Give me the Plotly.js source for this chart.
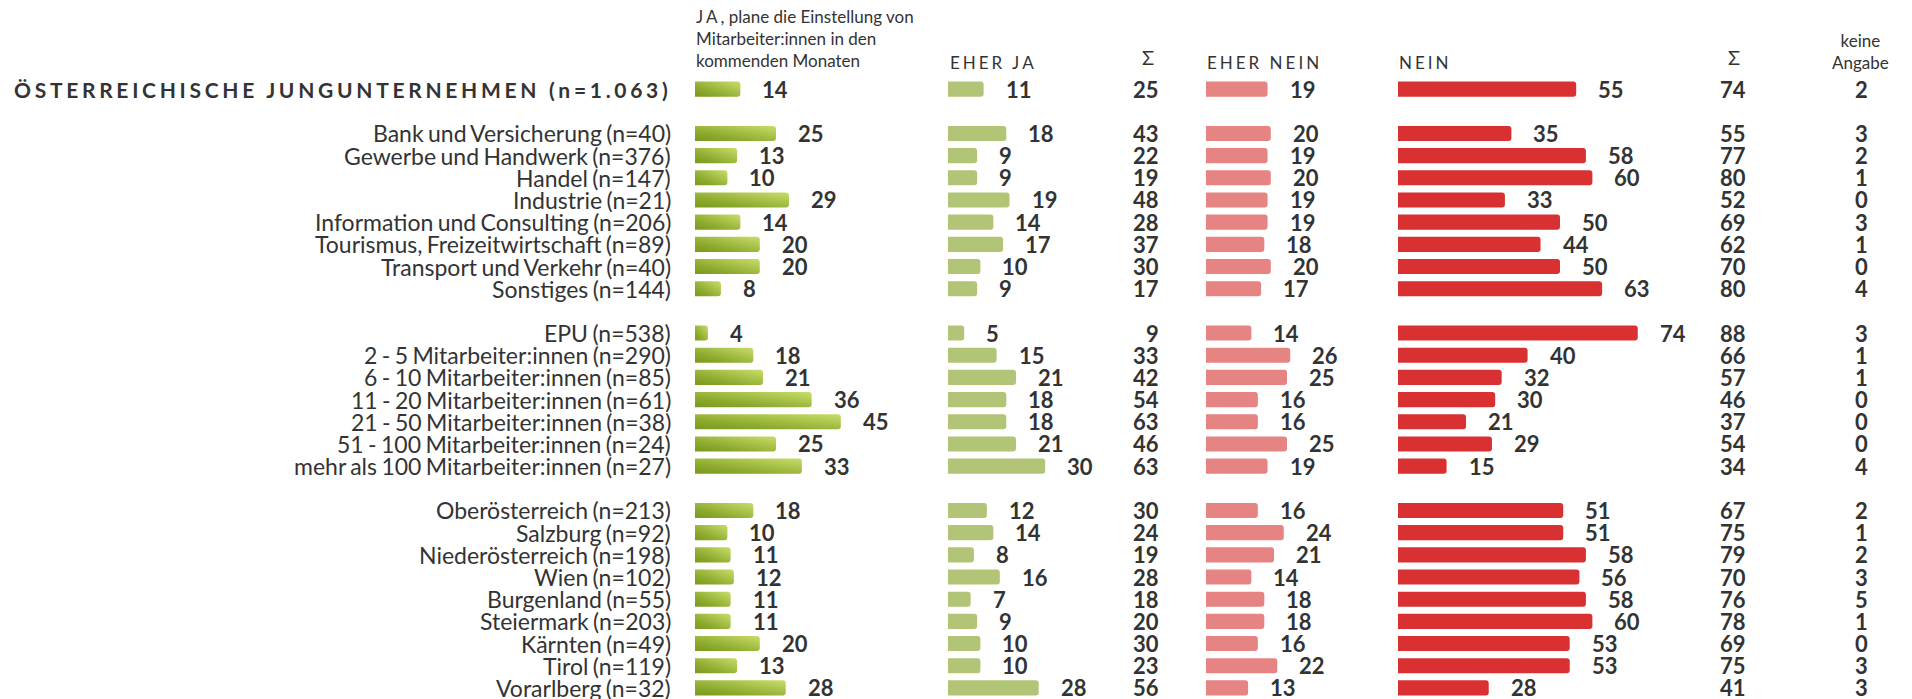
<!DOCTYPE html>
<html>
<head>
<meta charset="utf-8">
<script src="https://cdn.plot.ly/plotly-3.0.1.min.js"></script>
<style>
html,body{margin:0;padding:0;background:#fff;}
#chart{width:1912px;height:699px;}
</style>
</head>
<body>
<div id="chart"></div>
<script>
// ---------------- DATA ----------------
const categories = [
  'ÖSTERREICHISCHE JUNGUNTERNEHMEN (n=1.063)',
  'Bank und Versicherung (n=40)',
  'Gewerbe und Handwerk (n=376)',
  'Handel (n=147)',
  'Industrie (n=21)',
  'Information und Consulting (n=206)',
  'Tourismus, Freizeitwirtschaft (n=89)',
  'Transport und Verkehr (n=40)',
  'Sonstiges (n=144)',
  'EPU (n=538)',
  '2 - 5 Mitarbeiter:innen (n=290)',
  '6 - 10 Mitarbeiter:innen (n=85)',
  '11 - 20 Mitarbeiter:innen (n=61)',
  '21 - 50 Mitarbeiter:innen (n=38)',
  '51 - 100 Mitarbeiter:innen (n=24)',
  'mehr als 100 Mitarbeiter:innen (n=27)',
  'Oberösterreich (n=213)',
  'Salzburg (n=92)',
  'Niederösterreich (n=198)',
  'Wien (n=102)',
  'Burgenland (n=55)',
  'Steiermark (n=203)',
  'Kärnten (n=49)',
  'Tirol (n=119)',
  'Vorarlberg (n=32)'
];
const groupStarts = [1, 9, 16]; // a blank row is inserted before these categories

const ja       = [14, 25,13,10,29,14,20,20,8,  4,18,21,36,45,25,33, 18,10,11,12,11,11,20,13,28];
const eherJa   = [11, 18,9,9,19,14,17,10,9,    5,15,21,18,18,21,30, 12,14,8,16,7,9,10,10,28];
const sumJa    = [25, 43,22,19,48,28,37,30,17, 9,33,42,54,63,46,63, 30,24,19,28,18,20,30,23,56];
const eherNein = [19, 20,19,20,19,19,18,20,17, 14,26,25,16,16,25,19, 16,24,21,14,18,18,16,22,13];
const nein     = [55, 35,58,60,33,50,44,50,63, 74,40,32,30,21,29,15, 51,51,58,56,58,60,53,53,28];
const sumNein  = [74, 55,77,80,52,69,62,70,80, 88,66,57,46,37,54,34, 67,75,79,70,76,78,69,75,41];
const keineAngabe = [2, 3,2,1,0,3,1,0,4, 3,1,1,0,0,0,4, 2,1,2,3,5,1,0,3,3];

const headerJa = '<span style="letter-spacing:3px">JA</span>, plane die Einstellung von<br>Mitarbeiter:innen in den<br>kommenden Monaten';
const headerEherJa = 'EHER JA';
const headerEherNein = 'EHER NEIN';
const headerNein = 'NEIN';
const headerSum = 'Σ';
const headerKeine = 'keine<br>Angabe';

// ---------------- LAYOUT HELPERS ----------------
const W = 1912, H = 699, T = 78;
const PXU = 3.24; // pixels per percentage point
const xp = px => px / W;
const yp = px => (H - px) / (H - T);
const TXT = '#333333';
const FONT = 'Lato, "Open Sans", sans-serif';

const rowOrder = [];
categories.forEach((c, i) => {
  const g = groupStarts.indexOf(i);
  if (g >= 0) rowOrder.push('_gap' + g);
  rowOrder.push(c);
});

function axis(startPx, widthPx) {
  return {domain: [xp(startPx), xp(startPx + widthPx)], range: [0, widthPx / PXU],
          visible: false, showgrid: false, zeroline: false, fixedrange: true};
}

const series = [
  {name: 'JA', vals: ja, ax: 'x', color: '#9fbb3f'},
  {name: 'EHER JA', vals: eherJa, ax: 'x2', color: '#b2c577'},
  {name: 'EHER NEIN', vals: eherNein, ax: 'x3', color: '#e68383'},
  {name: 'NEIN', vals: nein, ax: 'x4', color: '#d93131'}
];

const traces = series.map(s => ({
  type: 'bar', orientation: 'h', name: s.name,
  x: s.vals, y: categories, xaxis: s.ax, yaxis: 'y',
  width: 0.68, marker: {color: s.color, cornerradius: 3, line: {width: 0}},
  hoverinfo: 'skip', showlegend: false
}));

const annotations = [];
// row labels
categories.forEach((c, i) => {
  const isTotal = i === 0;
  annotations.push({
    text: isTotal ? '<span style="letter-spacing:3.7px">' + c + '</span>'
                  : '<span style="word-spacing:-1.5px">' + c + '</span>',
    x: xp(673), xref: 'paper', xanchor: 'right',
    y: c, yref: 'y', yanchor: 'middle', showarrow: false,
    font: {family: FONT, size: isTotal ? 21 : 23, color: TXT, weight: isTotal ? 700 : 400}
  });
});
// value labels next to bars
series.forEach(s => {
  s.vals.forEach((v, i) => {
    annotations.push({
      text: String(v), x: v, xref: s.ax, xanchor: 'left', xshift: 20,
      y: categories[i], yref: 'y', yanchor: 'middle', showarrow: false,
      font: {family: FONT, size: 22, color: TXT, weight: 700}
    });
  });
});
// sum / keine Angabe columns
const cols = [
  {vals: sumJa, x: 1161, anchor: 'right'},
  {vals: sumNein, x: 1748, anchor: 'right'},
  {vals: keineAngabe, x: 1861, anchor: 'center'}
];
cols.forEach(col => {
  col.vals.forEach((v, i) => {
    annotations.push({
      text: String(v), x: xp(col.x), xref: 'paper', xanchor: col.anchor,
      y: categories[i], yref: 'y', yanchor: 'middle', showarrow: false,
      font: {family: FONT, size: 22, color: TXT, weight: 700}
    });
  });
});
// headers
const hdr = (text, xpx, anchor, ypx, size, align) => annotations.push({
  text, x: xp(xpx), xref: 'paper', xanchor: anchor, y: yp(ypx), yref: 'paper', yanchor: 'middle',
  showarrow: false, align: align || anchor, font: {family: FONT, size: size, color: TXT}
});
hdr(headerJa, 694, 'left', 39, 17, 'left');
hdr('<span style="letter-spacing:3px">' + headerEherJa + '</span>', 948, 'left', 62, 17);
hdr(headerSum, 1148, 'center', 57, 20);
hdr('<span style="letter-spacing:3px">' + headerEherNein + '</span>', 1205, 'left', 62, 17);
hdr('<span style="letter-spacing:3px">' + headerNein + '</span>', 1397, 'left', 62, 17);
hdr(headerSum, 1734, 'center', 57, 20);
hdr(headerKeine, 1860, 'center', 51, 17, 'center');

const layout = {
  width: W, height: H,
  margin: {l: 0, r: 0, t: T, b: 0, pad: 0},
  paper_bgcolor: '#ffffff', plot_bgcolor: '#ffffff',
  barmode: 'overlay',
  font: {family: FONT, color: TXT},
  xaxis: axis(695, 200),
  xaxis2: axis(948, 180),
  xaxis3: axis(1206, 180),
  xaxis4: axis(1398, 300),
  yaxis: {type: 'category', categoryorder: 'array', categoryarray: rowOrder,
          range: [rowOrder.length - 0.5, -0.5], visible: false, fixedrange: true,
          showgrid: false, zeroline: false},
  annotations: annotations,
  showlegend: false
};

Plotly.newPlot('chart', traces, layout, {displayModeBar: false, staticPlot: true}).then(gd => {
  // gradient fill for the "JA" bars
  const svg = gd.querySelector('svg.main-svg');
  const NS = 'http://www.w3.org/2000/svg';
  let defs = svg.querySelector('defs');
  if (!defs) { defs = document.createElementNS(NS, 'defs'); svg.insertBefore(defs, svg.firstChild); }
  const grad = document.createElementNS(NS, 'linearGradient');
  grad.setAttribute('id', 'jaGradient');
  grad.setAttribute('x1', '0'); grad.setAttribute('y1', '1');
  grad.setAttribute('x2', '1'); grad.setAttribute('y2', '0');
  [['0', '#7a9a1c'], ['0.3', '#8ba92c'], ['1', '#c9dd6a']].forEach(([o, c]) => {
    const st = document.createElementNS(NS, 'stop');
    st.setAttribute('offset', o); st.setAttribute('stop-color', c);
    grad.appendChild(st);
  });
  defs.appendChild(grad);
  gd.querySelectorAll('.subplot.xy .barlayer path').forEach(p => {
    p.style.fill = 'url(#jaGradient)';
  });
});
</script>
</body>
</html>
